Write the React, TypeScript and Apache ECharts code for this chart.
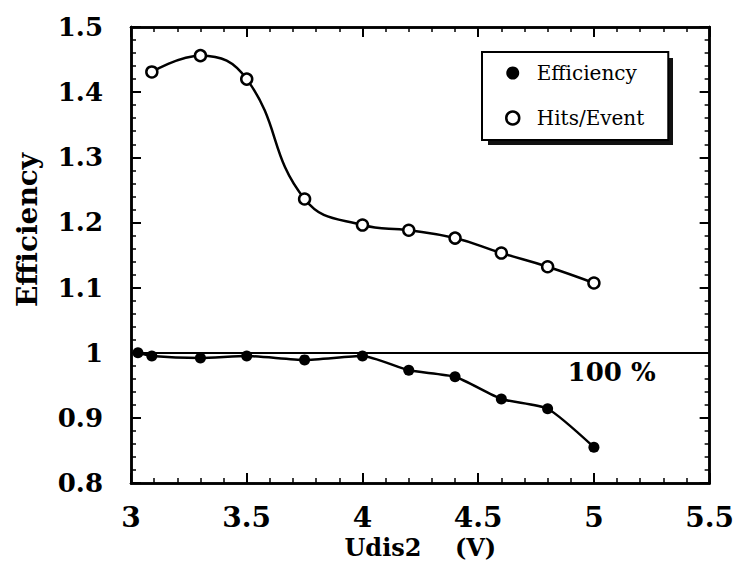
import React, { useEffect, useRef } from 'react';
import * as echarts from 'echarts';

// ---- data ----
const hitsX = [3.09, 3.3, 3.5, 3.75, 4.0, 4.2, 4.4, 4.6, 4.8, 5.0];
const hitsPerEvent = [1.431, 1.456, 1.42, 1.236, 1.196, 1.188, 1.176, 1.153, 1.132, 1.107];
const effX = [3.03, 3.09, 3.3, 3.5, 3.75, 4.0, 4.2, 4.4, 4.6, 4.8, 5.0];
const efficiency = [1.0, 0.995, 0.992, 0.995, 0.989, 0.995, 0.973, 0.963, 0.929, 0.914, 0.855];
const seriesNames = ['Efficiency', 'Hits/Event'];
const referenceLevel = 1.0;
const referenceLabel = '100 %';
const xAxisTitle = 'Udis2    (V)';
const yAxisTitle = 'Efficiency';
const xRange = [3, 5.5];
const yRange = [0.8, 1.5];
const xStep = 0.5;
const yStep = 0.1;
const xMinorStep = 0.1;
const yMinorStep = 0.02;

const FONT = "'DejaVu Serif', 'Liberation Serif', serif";

// frame axis with major ticks pointing into the plot
function frameAxis(extra: any) {
  return {
    type: 'value',
    axisLine: { show: true, onZero: false, lineStyle: { color: '#000', width: 2.5 } },
    axisTick: { show: true, inside: true, length: 10, lineStyle: { color: '#000', width: 2 } },
    splitLine: { show: false },
    axisLabel: { show: false },
    ...extra,
  };
}

// axis on the same edge that only adds the short (minor) ticks
function minorAxis(extra: any) {
  return {
    type: 'value',
    axisLine: { show: true, onZero: false, lineStyle: { color: '#000', width: 2.5 } },
    axisTick: { show: true, inside: true, length: 5, lineStyle: { color: '#000', width: 1.5 } },
    splitLine: { show: false },
    axisLabel: { show: false },
    ...extra,
  };
}

export default function App() {
  const ref = useRef<HTMLDivElement>(null);

  useEffect(() => {
    if (!ref.current) return;
    const chart = echarts.init(ref.current, undefined, { renderer: 'svg' });

    const xs = { min: xRange[0], max: xRange[1], interval: xStep };
    const ys = { min: yRange[0], max: yRange[1], interval: yStep };
    const xsMinor = { min: xRange[0], max: xRange[1], interval: xMinorStep };
    const ysMinor = { min: yRange[0], max: yRange[1], interval: yMinorStep };

    const option: any = {
      animation: false,
      backgroundColor: '#fff',
      grid: { left: 131, right: 26, top: 27, bottom: 91 },
      xAxis: [
        frameAxis({
          ...xs,
          position: 'bottom',
          name: xAxisTitle,
          nameLocation: 'middle',
          nameGap: 41,
          nameTextStyle: { fontFamily: FONT, fontWeight: 'bold', fontSize: 24, color: '#000' },
          axisLabel: { show: true, margin: 20, fontFamily: FONT, fontWeight: 'bold', fontSize: 28, color: '#000' },
        }),
        frameAxis({ ...xs, position: 'top' }),
        minorAxis({ ...xsMinor, position: 'bottom' }),
        minorAxis({ ...xsMinor, position: 'top' }),
      ],
      yAxis: [
        frameAxis({
          ...ys,
          position: 'left',
          name: yAxisTitle,
          nameLocation: 'middle',
          nameGap: 90,
          nameTextStyle: { fontFamily: FONT, fontWeight: 'bold', fontSize: 28, color: '#000', padding: [0, 0, 0, 50] },
          axisLabel: { show: true, margin: 28, fontFamily: FONT, fontWeight: 'bold', fontSize: 26, color: '#000' },
        }),
        frameAxis({ ...ys, position: 'right' }),
        minorAxis({ ...ysMinor, position: 'left' }),
        minorAxis({ ...ysMinor, position: 'right' }),
      ],
      // drop shadow behind the legend box
      graphic: [
        {
          type: 'rect',
          z: 3,
          silent: true,
          shape: { x: 488, y: 58, width: 185, height: 87 },
          style: { fill: '#111' },
        },
      ],
      legend: {
        orient: 'vertical',
        left: 482,
        top: 52,
        z: 5,
        backgroundColor: '#fff',
        borderColor: '#000',
        borderWidth: 2,
        padding: [11, 24, 12, 23],
        itemGap: 25,
        itemWidth: 38,
        itemHeight: 13,
        selectedMode: false,
        textStyle: { fontFamily: FONT, fontSize: 20, color: '#000' },
        data: [
          { name: seriesNames[0], icon: 'circle', itemStyle: { color: '#000', borderWidth: 0 } },
          { name: seriesNames[1], icon: 'circle', itemStyle: { color: '#fff', borderColor: '#000', borderWidth: 2.5 } },
        ],
      },
      series: [
        {
          name: seriesNames[0],
          type: 'line',
          xAxisIndex: 0,
          yAxisIndex: 0,
          smooth: 0.2,
          data: effX.map((x, i) => [x, efficiency[i]]),
          symbol: 'circle',
          symbolSize: 11,
          itemStyle: { color: '#000' },
          lineStyle: { color: '#000', width: 2.5 },
          markLine: {
            silent: true,
            symbol: 'none',
            lineStyle: { color: '#000', width: 2, type: 'solid' },
            label: {
              show: true,
              position: 'insideEndBottom',
              formatter: referenceLabel,
              distance: [54, 6],
              fontFamily: FONT,
              fontWeight: 'bold',
              fontSize: 26,
              color: '#000',
            },
            data: [{ yAxis: referenceLevel }],
          },
        },
        {
          name: seriesNames[1],
          type: 'line',
          xAxisIndex: 0,
          yAxisIndex: 0,
          smooth: 0.45,
          data: hitsX.map((x, i) => [x, hitsPerEvent[i]]),
          symbol: 'circle',
          symbolSize: 11,
          itemStyle: { color: '#fff', borderColor: '#000', borderWidth: 2.5 },
          lineStyle: { color: '#000', width: 2.5 },
        },
      ],
    };

    chart.setOption(option);
    return () => chart.dispose();
  }, []);

  return (
    <div
      ref={ref}
      style={{ position: 'fixed', left: 0, top: 0, width: 737, height: 574, background: '#fff' }}
    />
  );
}
